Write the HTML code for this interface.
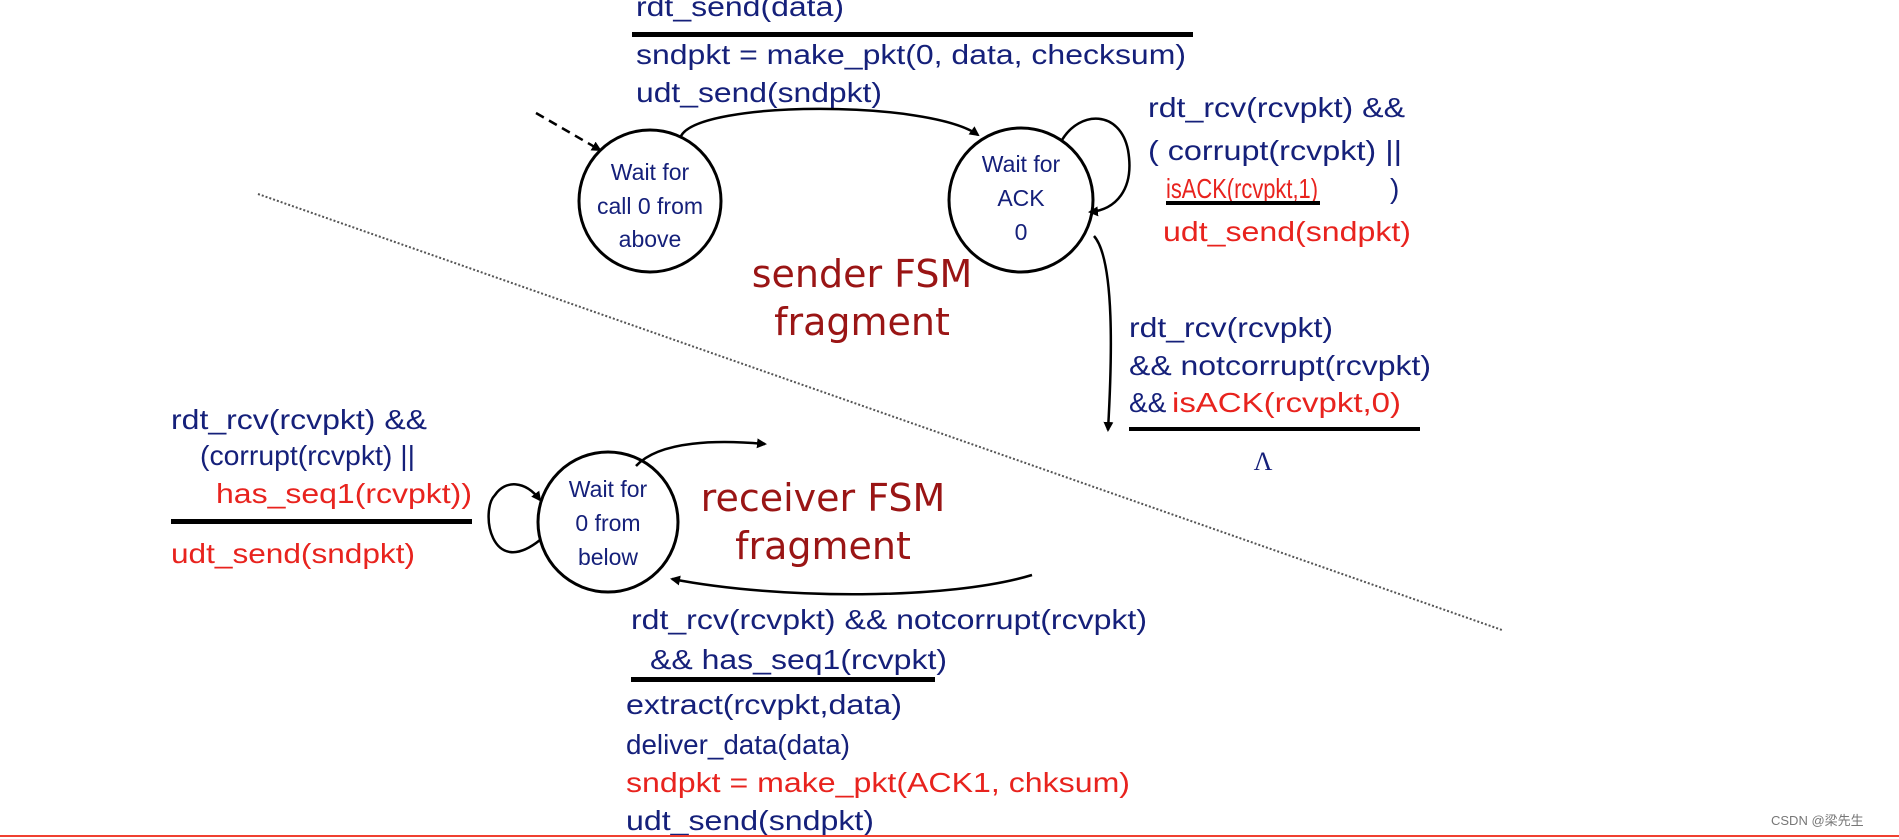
<!DOCTYPE html>
<html><head><meta charset="utf-8"><style>
html,body{margin:0;padding:0;background:#fff;}
svg{display:block;}
.t{font-family:"Liberation Sans",Arial,sans-serif;font-size:28px;fill:#15207a;}
.r{fill:#e8231e;}
.c{font-family:"Liberation Sans",Arial,sans-serif;font-size:23px;fill:#15207a;text-anchor:middle;}
.f{font-family:"DejaVu Sans","Liberation Sans",sans-serif;font-size:38px;fill:#9a1515;text-anchor:middle;}
</style></head><body>
<svg width="1899" height="839" viewBox="0 0 1899 839" xmlns="http://www.w3.org/2000/svg">
<defs>
<marker id="a" markerWidth="10" markerHeight="10" refX="8" refY="5" orient="auto" markerUnits="userSpaceOnUse"><path d="M0,0 L10,5 L0,10 z" fill="#000"/></marker>
</defs>
<!-- dotted divider -->
<line x1="258" y1="194" x2="1502" y2="630" stroke="#555" stroke-width="2" stroke-dasharray="2,2"/>
<!-- top transition label -->
<text class="t" x="636" y="16" textLength="208" lengthAdjust="spacingAndGlyphs">rdt_send(data)</text>
<rect x="632" y="32" width="561" height="5" fill="#000"/>
<text class="t" x="636" y="64" textLength="550" lengthAdjust="spacingAndGlyphs">sndpkt = make_pkt(0, data, checksum)</text>
<text class="t" x="636" y="102" textLength="246" lengthAdjust="spacingAndGlyphs">udt_send(sndpkt)</text>
<!-- circles -->
<circle cx="650" cy="201" r="71" fill="none" stroke="#000" stroke-width="3"/>
<circle cx="1021" cy="200" r="72" fill="none" stroke="#000" stroke-width="3"/>
<circle cx="608" cy="522" r="70" fill="none" stroke="#000" stroke-width="3"/>
<text class="c" x="650" y="180">Wait for</text>
<text class="c" x="650" y="214">call 0 from</text>
<text class="c" x="650" y="247">above</text>
<text class="c" x="1021" y="172">Wait for</text>
<text class="c" x="1021" y="206">ACK</text>
<text class="c" x="1021" y="240">0</text>
<text class="c" x="608" y="497">Wait for</text>
<text class="c" x="608" y="531">0 from</text>
<text class="c" x="608" y="565">below</text>
<!-- arrows -->
<line x1="536" y1="113" x2="600" y2="150" stroke="#000" stroke-width="2.5" stroke-dasharray="9,6" marker-end="url(#a)"/>
<path d="M681,136 C700,100 930,100 978,135" fill="none" stroke="#000" stroke-width="2.5" marker-end="url(#a)"/>
<path d="M1062,140 C1080,110 1120,110 1128,150 C1135,190 1115,210 1090,212" fill="none" stroke="#000" stroke-width="2.5" marker-end="url(#a)"/>
<path d="M1094,236 C1115,260 1112,360 1108,430" fill="none" stroke="#000" stroke-width="2.5" marker-end="url(#a)"/>
<path d="M540,540 C490,580 480,510 495,495 C505,480 525,480 540,500" fill="none" stroke="#000" stroke-width="2.5" marker-end="url(#a)"/>
<path d="M636,466 C660,440 720,440 765,444" fill="none" stroke="#000" stroke-width="2.5" marker-end="url(#a)"/>
<path d="M1032,575 C950,600 780,600 672,579" fill="none" stroke="#000" stroke-width="2.5" marker-end="url(#a)"/>
<!-- right labels -->
<text class="t" x="1148" y="117" textLength="257" lengthAdjust="spacingAndGlyphs">rdt_rcv(rcvpkt) &amp;&amp;</text>
<text class="t" x="1148" y="160" textLength="254" lengthAdjust="spacingAndGlyphs">( corrupt(rcvpkt) ||</text>
<text class="t r" x="1166" y="198" textLength="152" lengthAdjust="spacingAndGlyphs">isACK(rcvpkt,1)</text>
<text class="t" x="1390" y="198">)</text>
<rect x="1166" y="201" width="154" height="4" fill="#000"/>
<text class="t r" x="1163" y="241" textLength="248" lengthAdjust="spacingAndGlyphs">udt_send(sndpkt)</text>
<text class="t" x="1129" y="337" textLength="204" lengthAdjust="spacingAndGlyphs">rdt_rcv(rcvpkt)</text>
<text class="t" x="1129" y="375" textLength="302" lengthAdjust="spacingAndGlyphs">&amp;&amp; notcorrupt(rcvpkt)</text>
<text class="t" x="1129" y="412">&amp;&amp;</text>
<text class="t r" x="1172" y="412" textLength="229" lengthAdjust="spacingAndGlyphs">isACK(rcvpkt,0)</text>
<rect x="1129" y="427" width="291" height="4" fill="#000"/>
<text x="1263" y="470" font-family="Liberation Serif,serif" font-size="26" fill="#15207a" text-anchor="middle">Λ</text>
<!-- FSM titles -->
<text class="f" x="862" y="287">sender FSM</text>
<text class="f" x="862" y="335">fragment</text>
<text class="f" x="823" y="511">receiver FSM</text>
<text class="f" x="823" y="559">fragment</text>
<!-- left labels -->
<text class="t" x="171" y="429" textLength="256" lengthAdjust="spacingAndGlyphs">rdt_rcv(rcvpkt) &amp;&amp;</text>
<text class="t" x="200" y="465" textLength="215" lengthAdjust="spacingAndGlyphs">(corrupt(rcvpkt) ||</text>
<text class="t r" x="216" y="503" textLength="256" lengthAdjust="spacingAndGlyphs">has_seq1(rcvpkt))</text>
<rect x="171" y="519" width="301" height="5" fill="#000"/>
<text class="t r" x="171" y="563" textLength="244" lengthAdjust="spacingAndGlyphs">udt_send(sndpkt)</text>
<!-- bottom labels -->
<text class="t" x="631" y="629" textLength="516" lengthAdjust="spacingAndGlyphs">rdt_rcv(rcvpkt) &amp;&amp; notcorrupt(rcvpkt)</text>
<text class="t" x="650" y="669" textLength="297" lengthAdjust="spacingAndGlyphs">&amp;&amp; has_seq1(rcvpkt)</text>
<rect x="631" y="677" width="304" height="5" fill="#000"/>
<text class="t" x="626" y="714" textLength="276" lengthAdjust="spacingAndGlyphs">extract(rcvpkt,data)</text>
<text class="t" x="626" y="754" textLength="224" lengthAdjust="spacingAndGlyphs">deliver_data(data)</text>
<text class="t r" x="626" y="792" textLength="504" lengthAdjust="spacingAndGlyphs">sndpkt = make_pkt(ACK1, chksum)</text>
<text class="t" x="626" y="830" textLength="248" lengthAdjust="spacingAndGlyphs">udt_send(sndpkt)</text>
<line x1="0" y1="836" x2="1899" y2="836" stroke="#f04030" stroke-width="2"/>
<text x="1771" y="825" font-family="Liberation Sans,Noto Sans CJK SC,sans-serif" font-size="13" fill="#777">CSDN @梁先生</text>
</svg>
</body></html>
